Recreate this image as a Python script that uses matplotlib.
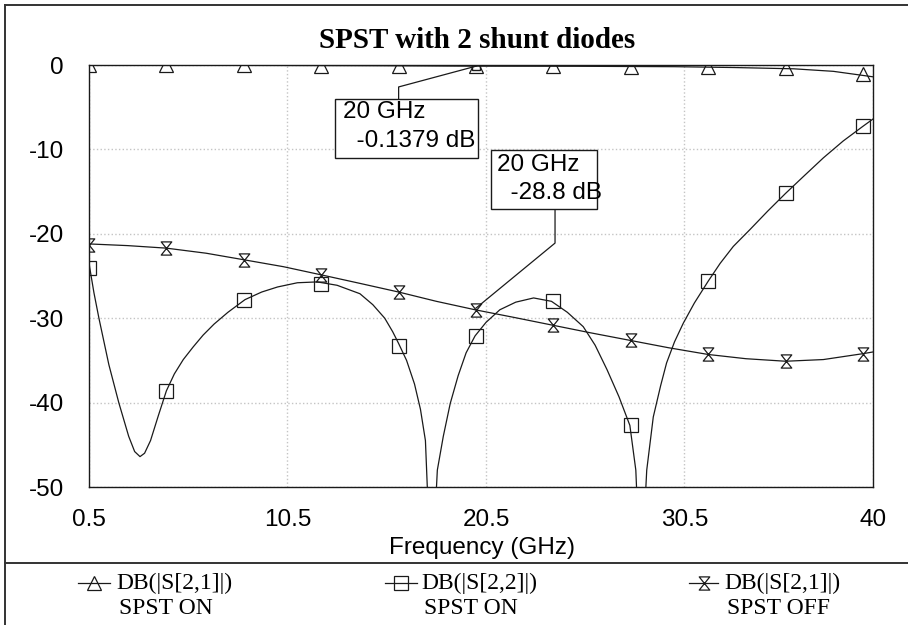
import matplotlib
matplotlib.use("Agg")
import matplotlib.pyplot as plt
from matplotlib.lines import Line2D
from matplotlib.patches import Rectangle
from matplotlib.path import Path

plt.rcParams["axes.unicode_minus"] = False

# --- data (GHz, dB) ---
f_s21_on = [0.5, 5, 10, 15, 20, 25, 30, 33, 36, 38, 40]
s21_on = [-0.02, -0.03, -0.05, -0.08, -0.138, -0.15, -0.2, -0.3, -0.45, -0.75, -1.4]

f_s22 = [0.5, 0.75, 1.0, 1.5, 2.0, 2.5, 2.8, 3.07, 3.3, 3.6, 4.0, 4.4, 4.8, 5.25, 5.75,
         6.25, 6.8, 7.5, 8.36, 9.2, 10.0, 11.0, 12.0, 13.0, 14.15, 14.8, 15.4, 15.8,
         16.1, 16.5, 16.9, 17.2, 17.45, 17.75, 18.05, 18.35, 18.7, 19.1, 19.5, 19.95,
         20.5, 21.2, 22.0, 22.9, 23.8, 24.6, 25.4, 26.0, 26.6, 27.2, 27.75, 28.05,
         28.3, 28.6, 28.93, 29.3, 29.6, 30.0, 30.44, 31.0, 31.7, 32.3, 32.96, 33.8,
         34.7, 35.6, 36.5, 37.5, 38.5, 39.5, 40.0]
s22 = [-23.5, -27.0, -30.0, -35.5, -40.0, -44.0, -45.8, -46.4, -46.0, -44.5, -41.5,
       -38.6, -36.6, -34.9, -33.4, -32.0, -30.7, -29.3, -27.8, -26.9, -26.3, -25.8,
       -25.7, -26.1, -27.1, -28.4, -30.0, -31.6, -33.0, -35.0, -37.8, -40.8, -44.5,
       -62.0, -48.0, -44.0, -40.1, -36.8, -34.1, -32.1, -30.5, -29.0, -28.1, -27.6,
       -28.0, -29.3, -31.0, -33.2, -36.1, -39.3, -42.7, -48.0, -62.0, -48.0, -41.7,
       -38.0, -35.3, -32.8, -30.6, -28.2, -25.6, -23.5, -21.5, -19.5, -17.3, -15.2,
       -13.2, -11.0, -9.0, -7.25, -6.4]

f_s21_off = [0.5, 2.45, 4.4, 6.4, 8.36, 10.3, 12.27, 14.2, 16.1, 18.0, 19.95, 21.9,
             23.8, 25.7, 27.7, 29.7, 31.7, 33.6, 35.6, 37.5, 39.5, 40.0]
s21_off = [-21.2, -21.4, -21.7, -22.3, -23.1, -23.9, -24.9, -25.9, -26.9, -28.0,
           -29.0, -29.9, -30.8, -31.7, -32.6, -33.5, -34.3, -34.8, -35.1, -34.9,
           -34.2, -34.0]

# marker points
f_mark = [0.5, 4.4, 8.3, 12.2, 16.1, 20.0, 23.9, 27.8, 31.7, 35.6, 39.5]
mk_s21_on = [-0.02, -0.03, -0.04, -0.06, -0.09, -0.138, -0.15, -0.18, -0.22, -0.4, -1.1]
mk_s22 = [-24.0, -38.6, -27.8, -25.9, -33.3, -32.1, -28.0, -42.7, -25.6, -15.2, -7.25]
mk_s21_off = [-21.3, -21.7, -23.1, -24.9, -26.9, -29.0, -30.8, -32.6, -34.3, -35.1, -34.2]

xticks = [0.5, 10.5, 20.5, 30.5, 40]
xtick_labels = ["0.5", "10.5", "20.5", "30.5", "40"]
yticks = [0, -10, -20, -30, -40, -50]

legend_names = ["DB(|S[2,1]|)", "DB(|S[2,2]|)", "DB(|S[2,1]|)"]
legend_states = ["SPST ON", "SPST ON", "SPST OFF"]

W, H = 908, 625
ink = "#1a1a1a"
sans = "Liberation Sans"
serif = "Liberation Serif"

# hourglass marker
bowtie = Path([(-0.8, 1), (0.8, 1), (-0.8, -1), (0.8, -1), (-0.8, 1)],
              [Path.MOVETO, Path.LINETO, Path.LINETO, Path.LINETO, Path.CLOSEPOLY])
markers = ["^", "s", bowtie]
msizes = [9.5, 10, 9.5]

fig = plt.figure(figsize=(W / 100, H / 100), dpi=100)
ax = fig.add_axes([89 / W, 1 - 487 / H, 784 / W, 422 / H])

curves = [(f_s21_on, s21_on, mk_s21_on), (f_s22, s22, mk_s22), (f_s21_off, s21_off, mk_s21_off)]
for (fx, fy, my), m, ms in zip(curves, markers, msizes):
    ax.plot(fx, fy, color=ink, lw=0.9)
    mk, = ax.plot(f_mark, my, ls="none", marker=m, ms=ms, mfc="none", mec=ink, mew=0.9)
    mk.set_clip_path(ax.patch)   # cut the markers sitting on the 0 dB edge

ax.set_xlim(0.5, 40)
ax.set_ylim(-50, 0)
ax.set_xticks(xticks)
ax.set_xticklabels(xtick_labels)
ax.set_yticks(yticks)
ax.tick_params(length=0, labelsize=17.5, colors="black")
ax.tick_params(axis="y", pad=18)
ax.tick_params(axis="x", pad=16)
for lab in ax.get_xticklabels() + ax.get_yticklabels():
    lab.set_family(sans)
ax.grid(True, color="#c4c4c4", ls=":", lw=1)
for sp in ax.spines.values():
    sp.set_color(ink)
    sp.set_linewidth(1.0)

# marker annotations
ax.plot([20], [-0.1379], marker="s", ms=6, mfc="none", mec=ink, mew=1)
ax.plot([16.1, 16.1, 20], [-4.0, -2.6, -0.1379], color=ink, lw=0.9)
ax.add_patch(Rectangle((12.9, -11.0), 7.2, 7.0, fc="white", ec=ink, lw=1, zorder=3))
ax.text(13.3, -5.6, "20 GHz", family=sans, fontsize=17.5, va="center", zorder=4)
ax.text(13.3, -9.0, "  -0.1379 dB", family=sans, fontsize=17.5, va="center", zorder=4)

ax.plot([23.98, 23.98, 20], [-17.1, -21.1, -28.8], color=ink, lw=0.9)
ax.add_patch(Rectangle((20.75, -17.1), 5.35, 7.0, fc="white", ec=ink, lw=1, zorder=3))
ax.text(21.05, -11.8, "20 GHz", family=sans, fontsize=17.5, va="center", zorder=4)
ax.text(21.05, -15.2, "  -28.8 dB", family=sans, fontsize=17.5, va="center", zorder=4)

fig.text(477 / W, 1 - 40 / H, "SPST with 2 shunt diodes", family=serif,
         weight="bold", fontsize=21, ha="center", va="center")
fig.text(482 / W, 1 - 548 / H, "Frequency (GHz)", family=sans, fontsize=17.5,
         ha="center", va="center")

# frame and legend panel
for xs, ys in [([5, W], [H - 5, H - 5]), ([5, 5], [H - 5, 0]), ([5, W], [H - 563, H - 563])]:
    fig.add_artist(Line2D([x / W for x in xs], [y / H for y in ys], color="#333333", lw=1.4))

legend_x = [(78, 110, 116), (385, 417, 421), (689, 718, 724)]
for (x0, x1, xt), m, ms, name, state in zip(legend_x, markers, msizes, legend_names, legend_states):
    yl = 1 - 583 / H
    fig.add_artist(Line2D([x0 / W, x1 / W], [yl, yl], color=ink, lw=0.9))
    fig.add_artist(Line2D([(x0 + x1) / 2 / W], [yl], marker=m, ms=ms, mfc="none", mec=ink, mew=0.9))
    fig.text(xt / W, yl, name, family=serif, fontsize=17, ha="left", va="center")
    fig.text((xt + 3) / W, 1 - 608 / H, state, family=serif, fontsize=17, ha="left", va="center")

fig.savefig("out.png", dpi=100)
